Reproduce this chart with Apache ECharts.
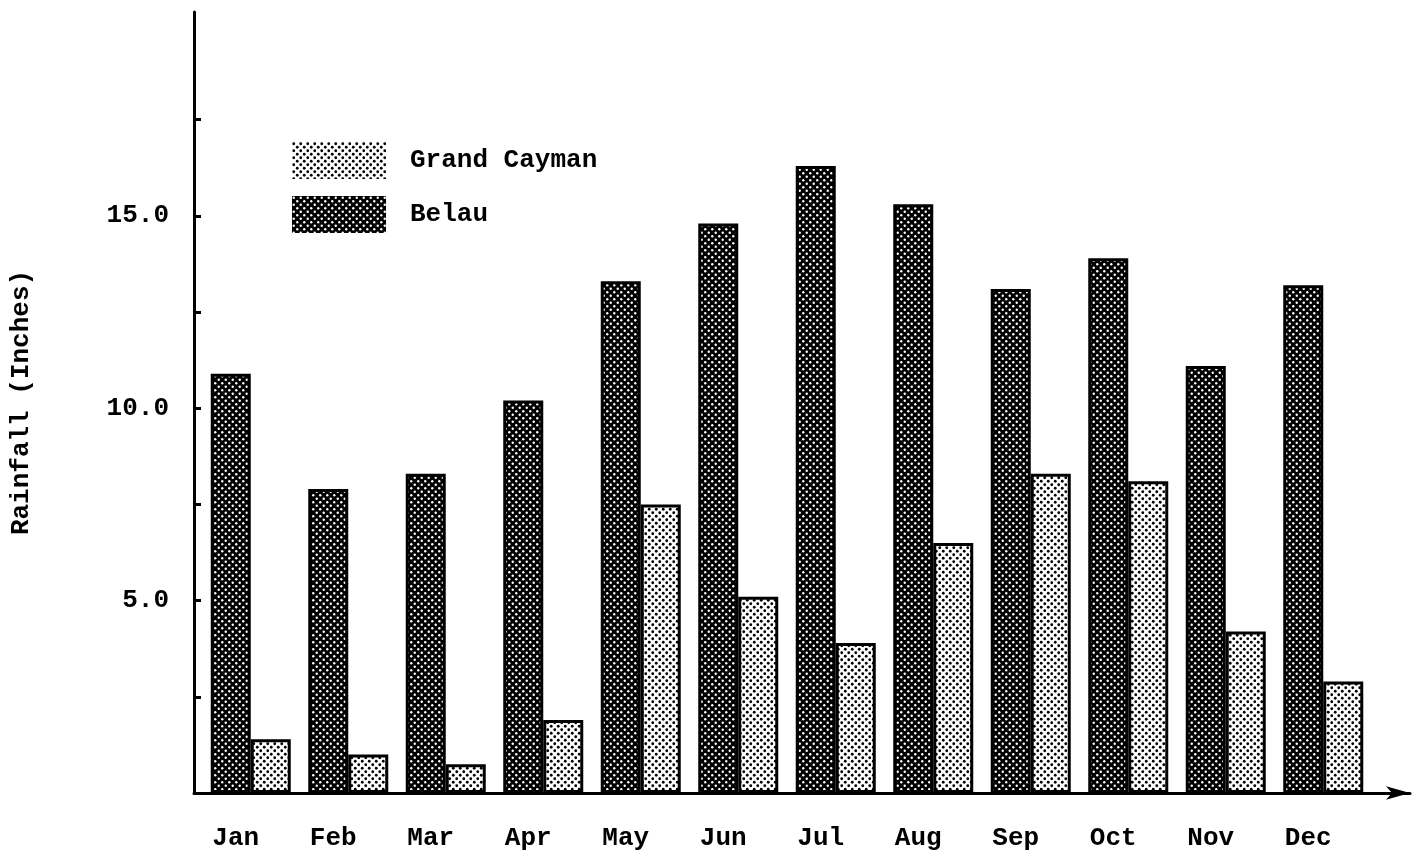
<!DOCTYPE html>
<html>
<head>
<meta charset="utf-8">
<title>Rainfall</title>
<script src="https://cdn.jsdelivr.net/npm/echarts@6/dist/echarts.min.js"></script>
<style>
  html, body { margin: 0; padding: 0; background: #fff; }
  #chart { width: 1422px; height: 858px; }
</style>
</head>
<body>
<div id="chart"></div>
<script>
  // data
  const months = ['Jan', 'Feb', 'Mar', 'Apr', 'May', 'Jun', 'Jul', 'Aug', 'Sep', 'Oct', 'Nov', 'Dec']
  const belau = [10.9, 7.9, 8.3, 10.2, 13.3, 14.8, 16.3, 15.3, 13.1, 13.9, 11.1, 13.2]
  const grandCayman = [1.4, 1.0, 0.75, 1.9, 7.5, 5.1, 3.9, 6.5, 8.3, 8.1, 4.2, 2.9]
  const yTicks = [2.5, 5, 7.5, 10, 12.5, 15, 17.5]
  const yLabels = [5, 10, 15]

  const FONT = 'Liberation Mono'

  // dotted fill, like the old screen tones
  function dots (bg, fg, r) {
    const c = document.createElement('canvas')
    c.width = 7
    c.height = 7
    const ctx = c.getContext('2d')
    ctx.fillStyle = bg
    ctx.fillRect(0, 0, 7, 7)
    ctx.fillStyle = fg
    ;[[1.75, 1.75], [5.25, 5.25]].forEach(p => {
      ctx.beginPath()
      ctx.arc(p[0], p[1], r, 0, Math.PI * 2)
      ctx.fill()
    })
    return { image: c, repeat: 'repeat' }
  }

  const darkTone = dots('#000', '#fff', 1.2)
  const lightTone = dots('#fff', '#000', 1.4)

  const chart = echarts.init(document.getElementById('chart'))
  const option = {
    animation: false,
    backgroundColor: '#fff',
    textStyle: { fontFamily: FONT, color: '#000' },
    legend: {
      left: 287,
      top: 137,
      orient: 'vertical',
      itemWidth: 94,
      itemHeight: 37,
      itemGap: 17,
      selectedMode: false,
      icon: 'rect',
      textStyle: { fontFamily: FONT, fontSize: 26, fontWeight: 'bold', color: '#000', padding: [0, 0, 0, 19] },
      data: [
        { name: 'Grand Cayman', itemStyle: { borderWidth: 0 } },
        { name: 'Belau', itemStyle: { borderWidth: 0 } }
      ]
    },
    // grid 0 holds the bars, grid 1 the long drawn axes
    grid: [
      { left: 202, right: 50, top: 12, bottom: 65 },
      { left: 192, right: 12, top: 12, bottom: 65 }
    ],
    xAxis: [
      {
        type: 'category',
        gridIndex: 0,
        data: months,
        axisLine: { show: false },
        axisTick: { show: false },
        axisLabel: {
          fontFamily: FONT,
          fontSize: 26,
          fontWeight: 'bold',
          color: '#000',
          margin: 32,
          padding: [0, 30, 0, 0]
        }
      },
      {
        type: 'value',
        gridIndex: 1,
        min: 0,
        max: 1,
        axisLine: {
          show: true,
          lineStyle: { color: '#000', width: 3 },
          symbol: ['none', 'arrow'],
          symbolSize: [10, 24]
        },
        axisTick: { show: false },
        axisLabel: { show: false },
        splitLine: { show: false }
      }
    ],
    yAxis: [
      {
        type: 'value',
        gridIndex: 0,
        min: 0,
        max: 20.3,
        show: false
      },
      {
        type: 'value',
        gridIndex: 1,
        min: 0,
        max: 20.3,
        name: 'Rainfall (Inches)',
        nameLocation: 'middle',
        nameRotate: 90,
        nameGap: 160,
        nameTextStyle: { fontFamily: FONT, fontSize: 26, fontWeight: 'bold', color: '#000' },
        axisLine: { show: true, lineStyle: { color: '#000', width: 3 } },
        axisTick: { show: true, inside: true, length: 7, customValues: yTicks, lineStyle: { color: '#000', width: 3 } },
        splitLine: { show: false },
        axisLabel: {
          fontFamily: FONT,
          fontSize: 26,
          fontWeight: 'bold',
          color: '#000',
          margin: 25,
          customValues: yLabels,
          formatter: v => v.toFixed(1)
        }
      }
    ],
    series: [
      {
        name: 'Belau',
        type: 'bar',
        xAxisIndex: 0,
        yAxisIndex: 0,
        barWidth: 40,
        barGap: '0%',
        itemStyle: { color: darkTone, borderColor: '#000', borderWidth: 3 },
        data: belau
      },
      {
        name: 'Grand Cayman',
        type: 'bar',
        xAxisIndex: 0,
        yAxisIndex: 0,
        barWidth: 40,
        barGap: '0%',
        itemStyle: { color: lightTone, borderColor: '#000', borderWidth: 3 },
        data: grandCayman
      }
    ]
  }
  chart.setOption(option)
</script>
</body>
</html>
